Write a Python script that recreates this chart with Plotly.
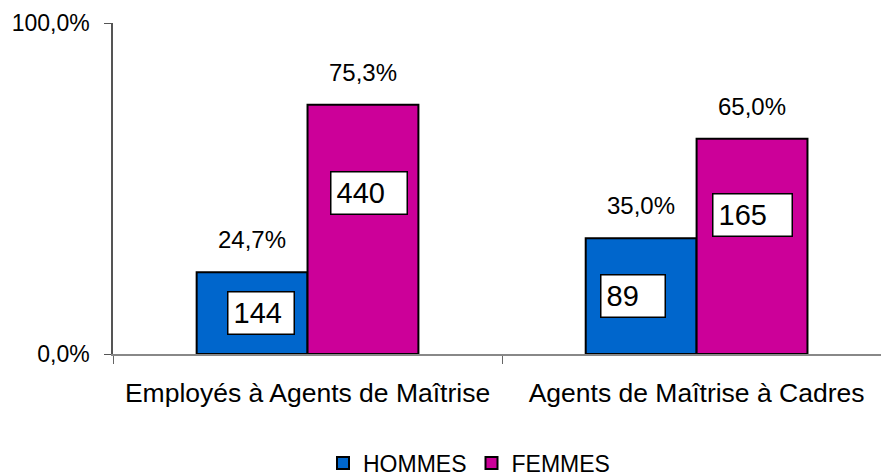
import plotly.graph_objects as go

categories = ["Employés à Agents de Maîtrise", "Agents de Maîtrise à Cadres"]
series_names = ["HOMMES", "FEMMES"]
hommes_pct = [0.247, 0.350]
femmes_pct = [0.753, 0.650]
hommes_n = [144, 89]
femmes_n = [440, 165]
y_tickvals = [0, 1]

colors = ["#0066CC", "#CC0099"]
FONT = "Liberation Sans, Arial, sans-serif"

bargap = 0.43
bar_w = (1 - bargap) / 2

fig = go.Figure()
for name, vals, col in zip(series_names, [hommes_pct, femmes_pct], colors):
    fig.add_trace(go.Bar(
        name=name, x=categories, y=vals,
        marker=dict(color=col, line=dict(color="black", width=2)),
        hoverinfo="skip",
    ))

# label styling (nudges)
box_frac = [0.5, 0.645]
box_xshift = [[9, -8], [6, 0]]
box_width = [[55, 53], [65, 68]]

for s, (vals, counts) in enumerate([(hommes_pct, hommes_n), (femmes_pct, femmes_n)]):
    for i, (v, n) in enumerate(zip(vals, counts)):
        xc = i + (s - 0.5) * bar_w
        pct_txt = f"{v*100:.1f}%".replace(".", ",")
        fig.add_annotation(
            x=xc, y=v, xref="x", yref="y", text=pct_txt, showarrow=False,
            yanchor="bottom", yshift=17,
            font=dict(family=FONT, size=24, color="black"),
        )
        fig.add_annotation(
            x=xc, y=v * box_frac[s], xref="x", yref="y", text=str(n),
            showarrow=False, xshift=box_xshift[s][i],
            font=dict(family=FONT, size=29, color="black"),
            bgcolor="white", bordercolor="black", borderwidth=1.5,
            borderpad=5, width=box_width[s][i], height=31, align="left",
            valign="middle",
        )

fig.update_layout(
    width=881, height=476,
    margin=dict(l=113, r=0, t=23, b=122, autoexpand=False),
    paper_bgcolor="white", plot_bgcolor="white",
    barmode="group", bargap=bargap, bargroupgap=0,
    separators=", ",
    showlegend=True,
    legend=dict(
        orientation="h", xref="paper", yref="paper",
        x=(469 - 113) / 768, xanchor="center", y=-(463 - 354) / 331, yanchor="middle",
        font=dict(family=FONT, size=23, color="black"),
        itemwidth=30, tracegroupgap=0,
    ),
    font=dict(family=FONT, color="black"),
)
fig.update_xaxes(
    type="category", range=[-0.5, 1.474], automargin=False,
    showline=True, linecolor="#888888", linewidth=1.5,
    ticks="outside", tickson="boundaries", ticklen=8, tickcolor="#666666",
    tickfont=dict(family=FONT, size=26.5, color="black"),
    ticklabelstandoff=14, showgrid=False, zeroline=False,
)
fig.update_yaxes(
    range=[0, 1], tickvals=y_tickvals, tickformat=".1%", automargin=False,
    showline=True, linecolor="#555555", linewidth=1.5,
    ticks="outside", ticklen=7, tickcolor="#555555",
    tickfont=dict(family=FONT, size=23, color="black"),
    ticklabelstandoff=10, showgrid=False, zeroline=False,
)

fig.write_html(
    "out.html",
    config={"displayModeBar": False},
    post_script="document.body.style.margin='0';document.body.style.overflow='hidden';",
)
